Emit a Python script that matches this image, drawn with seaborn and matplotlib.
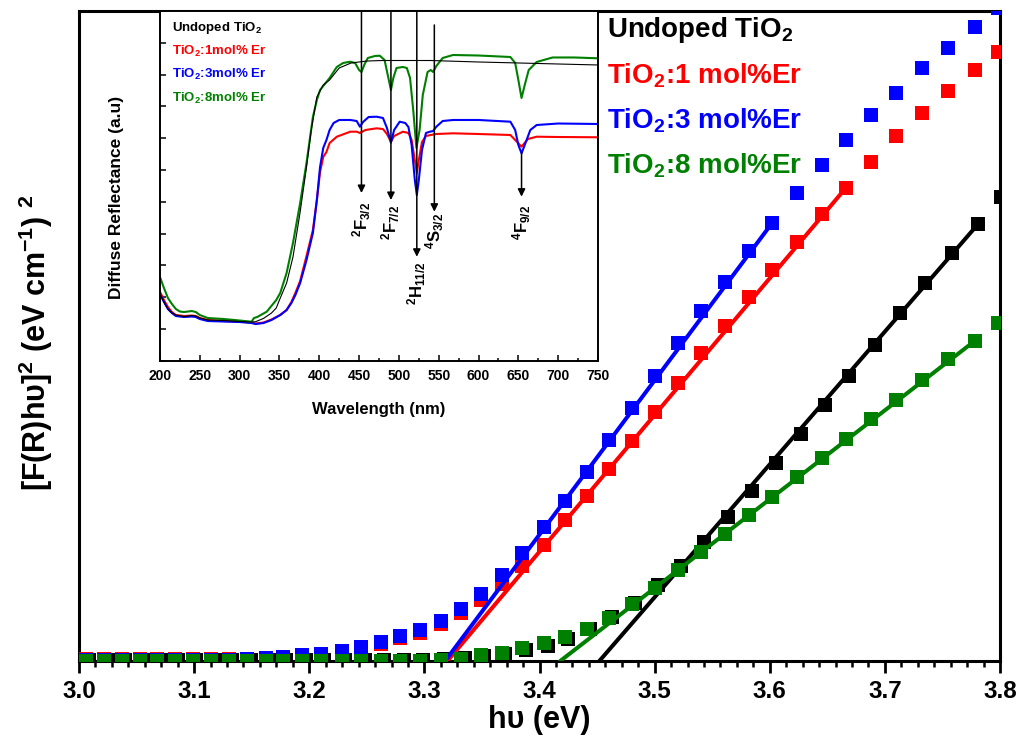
import matplotlib
matplotlib.use("Agg")
import matplotlib.pyplot as plt
import pandas as pd
import seaborn as sns
from matplotlib.ticker import (MultipleLocator, AutoMinorLocator,
                               FormatStrFormatter, NullFormatter)

# ---------------- Tauc plot data ----------------
# photon energy (eV) of each point (doped samples)
energy = [3.006, 3.022, 3.037, 3.053, 3.068, 3.083, 3.099, 3.115, 3.130, 3.146,
          3.162, 3.177, 3.194, 3.210, 3.228, 3.245, 3.262, 3.279, 3.296, 3.314,
          3.332, 3.349, 3.367, 3.385, 3.404, 3.422, 3.441, 3.460, 3.480, 3.500,
          3.520, 3.540, 3.561, 3.582, 3.602, 3.624, 3.645, 3.666, 3.688, 3.710,
          3.732, 3.755, 3.778, 3.798]
# photon energy (eV) of each point (undoped sample)
energy_undoped = [3.009, 3.025, 3.040, 3.056, 3.071, 3.086, 3.102, 3.118, 3.133, 3.149,
                  3.165, 3.180, 3.197, 3.213, 3.231, 3.248, 3.265, 3.282, 3.299, 3.317,
                  3.335, 3.352, 3.370, 3.388, 3.407, 3.425, 3.444, 3.463, 3.483, 3.503,
                  3.523, 3.543, 3.564, 3.585, 3.605, 3.627, 3.648, 3.669, 3.691, 3.713,
                  3.735, 3.758, 3.781, 3.801]

tauc_undoped = [0.08, 0.08, 0.08, 0.08, 0.08, 0.08, 0.08, 0.08, 0.08, 0.08,
                0.08, 0.08, 0.08, 0.08, 0.08, 0.08, 0.08, 0.08, 0.08, 0.31,
                0.46, 0.69, 1.08, 1.62, 2.38, 3.38, 4.92, 6.77, 8.92, 11.69,
                14.6, 18.3, 22.15, 26.15, 30.46, 34.92, 39.38, 43.85, 48.62, 53.54,
                58.08, 62.77, 67.23, 71.38]
tauc_er1 = [0.23, 0.23, 0.23, 0.23, 0.23, 0.23, 0.23, 0.23, 0.23, 0.35,
            0.46, 0.58, 0.77, 0.95, 1.34, 1.95, 2.65, 3.46, 4.38, 5.62,
            7.31, 9.38, 11.85, 14.62, 17.85, 21.69, 25.38, 29.54, 33.85, 38.31,
            42.77, 47.38, 51.54, 56.0, 60.15, 64.46, 68.77, 72.77, 76.77, 80.77,
            84.31, 87.69, 90.92, 93.69]
tauc_er3 = [0.15, 0.15, 0.15, 0.15, 0.15, 0.15, 0.15, 0.15, 0.15, 0.31,
            0.46, 0.62, 0.85, 1.08, 1.46, 2.15, 2.92, 3.77, 4.69, 6.08,
            8.0, 10.31, 13.23, 16.62, 20.54, 24.62, 29.08, 34.0, 38.85, 43.85,
            48.92, 53.77, 58.38, 63.0, 67.38, 72.0, 76.31, 80.15, 84.0, 87.46,
            91.23, 94.31, 97.54, 100.5]
tauc_er8 = [0.0, 0.0, 0.0, 0.0, 0.0, 0.0, 0.0, 0.0, 0.0, 0.0,
            0.0, 0.0, 0.0, 0.0, 0.0, 0.0, 0.0, 0.0, 0.05, 0.17,
            0.35, 0.88, 1.28, 1.95, 2.72, 3.74, 4.88, 6.6, 8.7, 11.2,
            14.0, 16.8, 19.6, 22.5, 25.3, 28.3, 31.2, 34.2, 37.2, 40.2,
            43.3, 46.4, 49.23, 52.0]

# band-gap energies (eV) from the linear extrapolation
band_gap = [3.452, 3.320, 3.318, 3.418]
# index of the last point used in each linear fit
fit_end = [42, 37, 34, 42]

series_labels = ["Undoped TiO$_2$", "TiO$_2$:1 mol%Er",
                 "TiO$_2$:3 mol%Er", "TiO$_2$:8 mol%Er"]
inset_labels = ["Undoped TiO$_2$", "TiO$_2$:1mol% Er",
                "TiO$_2$:3mol% Er", "TiO$_2$:8mol% Er"]
colors = ["#000000", "#ff0000", "#0000ff", "#008000"]

# ---------------- diffuse reflectance spectra ----------------
wl_undoped = [200, 205, 210, 215, 220, 230, 240, 245, 250, 260, 280, 300, 315, 320,
              330, 340, 346, 350, 359, 367, 376, 384, 390, 397, 405, 413, 425, 440,
              460, 480, 500, 520, 540, 560, 600, 650, 700, 750]
refl_undoped = [20.98, 18.47, 16.26, 15.0, 14.38, 13.9, 14.22, 14.06, 13.43, 12.8,
                12.65, 12.33, 12.17, 12.27, 13.3, 15.0, 16.58, 19.09, 24.44, 32.62,
                46.78, 60.93, 72.57, 82.95, 86.73, 88.3, 92.07, 93.65, 94.27, 94.43,
                94.43, 94.43, 94.43, 94.27, 93.96, 93.65, 93.33, 93.02]

wl_er1 = [200, 205, 210, 215, 220, 230, 240, 245, 250, 260, 280, 300, 315, 320, 330,
          340, 351, 359, 365, 370, 376, 384, 392, 397, 401, 405, 409, 413, 422, 439,
          447, 451, 458, 472, 480, 485, 490, 494, 505, 512, 516, 520, 522.5, 525, 529,
          534, 540, 547, 568, 600, 640, 646, 654, 662, 673, 700, 750]
refl_er1 = [21.7, 19.09, 16.89, 15.32, 14.38, 14.06, 14.22, 14.06, 13.43, 12.8,
            12.49, 12.33, 12.02, 11.7, 12.02, 12.96, 14.38, 15.95, 18.47, 21.3,
            25.07, 32.93, 41.11, 50.55, 59.36, 64.08, 65.65, 68.48, 70.46, 72.04,
            72.04, 71.63, 72.57, 73.1, 72.88, 71.31, 68.89, 70.68, 72.04, 71.63,
            69.42, 63.13, 58.95, 63.13, 68.8, 70.68, 71.0, 71.31, 71.53, 71.31,
            71.0, 69.42, 67.32, 69.74, 70.46, 70.37, 70.28]

wl_er3 = [200, 205, 210, 215, 220, 230, 240, 245, 250, 260, 280, 300, 315, 320, 330,
          340, 351, 359, 365, 370, 376, 384, 392, 397, 401, 405, 409, 413, 418, 425,
          439, 447, 451, 455, 462, 472, 480, 485, 490, 494, 501, 508, 512, 516, 520,
          522.5, 525, 529, 534, 539, 543, 547, 555, 568, 600, 640, 646, 650, 654, 658,
          665, 673, 700, 750]
refl_er3 = [20.98, 18.47, 16.26, 15.0, 14.06, 13.75, 13.9, 13.75, 13.12, 12.49,
            12.33, 12.17, 11.86, 11.54, 11.86, 12.8, 14.38, 15.95, 18.15, 20.67,
            24.44, 31.68, 40.17, 50.55, 60.93, 66.91, 69.42, 72.57, 74.77, 75.72,
            75.72, 75.4, 73.61, 75.09, 76.66, 76.75, 76.35, 73.2, 68.57, 72.57,
            75.18, 74.77, 73.51, 67.85, 56.84, 52.12, 56.84, 66.28, 71.63, 72.04,
            72.25, 73.61, 75.4, 75.72, 75.72, 75.18, 72.57, 67.85, 65.24, 67.85,
            72.57, 74.14, 74.61, 74.46]

wl_er8 = [200, 205, 210, 215, 220, 225, 230, 240, 245, 250, 260, 280, 300, 315, 318,
          322, 334, 346, 351, 359, 367, 376, 384, 392, 397, 401, 406, 413, 422, 430,
          439, 445, 450, 453, 457, 461, 470, 476, 482, 486, 490, 493, 497, 505, 510,
          514, 518, 522, 526, 530, 536, 540, 543, 547, 555, 568, 600, 640, 646, 650,
          654, 658, 663, 673, 693, 720, 750]
refl_er8 = [26.33, 22.87, 19.72, 17.84, 16.26, 15.48, 15.32, 15.63, 15.32, 14.38,
            13.43, 13.12, 12.65, 12.27, 13.43, 13.75, 15.41, 19.09, 21.3, 27.59,
            37.02, 49.61, 62.19, 76.66, 82.01, 85.15, 86.73, 88.93, 92.39, 93.65,
            94.05, 93.65, 91.44, 90.81, 93.33, 95.22, 95.85, 95.94, 94.59, 89.87,
            85.15, 88.93, 92.07, 92.39, 92.07, 88.93, 78.86, 66.91, 72.57, 83.58,
            90.81, 91.44, 90.81, 92.7, 95.22, 96.16, 96.0, 95.53, 93.65, 88.3,
            82.64, 86.73, 91.44, 93.96, 95.38, 95.38, 95.13]

# Er3+ absorption transitions marked in the spectra
transitions = ["$^2$F$_{3/2}$", "$^2$F$_{7/2}$", "$^2$H$_{11/2}$",
               "$^4$S$_{3/2}$", "$^4$F$_{9/2}$"]
transition_wl = [453, 490, 522.5, 544.5, 654]

# ---------------- style ----------------
sns.set_theme(style="ticks", rc={"axes.edgecolor": "black", "xtick.color": "black",
                                 "ytick.color": "black", "axes.labelcolor": "black",
                                 "text.color": "black"})
plt.rcParams["font.family"] = ["Liberation Sans", "DejaVu Sans"]
plt.rcParams["font.weight"] = "bold"
plt.rcParams["axes.labelweight"] = "bold"
plt.rcParams["mathtext.default"] = "regular"

fig = plt.figure(figsize=(10.17, 7.43), dpi=100)
ax = fig.add_axes([0.0777, 0.1104, 0.9056, 0.8748])

# ---------------- main Tauc plot ----------------
tauc = [tauc_undoped, tauc_er1, tauc_er3, tauc_er8]
for i, (y, c) in enumerate(zip(tauc, colors)):
    x = energy_undoped if i == 0 else energy
    k = fit_end[i]
    fit = pd.DataFrame({"E": [band_gap[i], x[k]], "F": [0.0, y[k]]})
    sns.lineplot(data=fit, x="E", y="F", ax=ax, color=c, lw=2.9,
                 zorder=2 + 2 * i)
    sns.scatterplot(x=x, y=y, ax=ax, color=c, marker="s", s=95,
                    linewidth=0, zorder=3 + 2 * i)

ax.set_xlim(3.0, 3.8)
ax.set_ylim(0, 100)
ax.xaxis.set_major_locator(MultipleLocator(0.1))
ax.xaxis.set_minor_locator(AutoMinorLocator(7))
ax.xaxis.set_major_formatter(FormatStrFormatter("%.1f"))
ax.set_yticks([])
ax.tick_params(axis="x", which="major", direction="out", length=8.6, width=2.0,
               labelsize=17.5, pad=5)
ax.tick_params(axis="x", which="minor", direction="out", length=4.2, width=1.8)
for lab in ax.get_xticklabels():
    lab.set_fontweight("bold")
for sp in ax.spines.values():
    sp.set_linewidth(2.2)

ax.set_xlabel("hυ (eV)", fontsize=22, fontweight="bold")
ax.xaxis.set_label_coords(0.5, -0.068)
ax.set_ylabel(r"[F(R)hυ]$^2$ (eV cm$^{-1}$) $^2$", fontsize=22, fontweight="bold")
ax.yaxis.set_label_coords(-0.026, 0.49)

legend_y = [0.9605, 0.8888, 0.8195, 0.7503]
for lab, c, yy in zip(series_labels, colors, legend_y):
    ax.text(0.573, yy, lab, transform=ax.transAxes, color=c, fontsize=20,
            fontweight="bold", va="baseline", ha="left")

# ---------------- inset: reflectance spectra ----------------
axin = fig.add_axes([0.1573, 0.5145, 0.4307, 0.4707])
axin.set_facecolor("white")
spectra = [(wl_er1, refl_er1, colors[1], 1.5), (wl_er3, refl_er3, colors[2], 1.5),
           (wl_er8, refl_er8, colors[3], 1.5), (wl_undoped, refl_undoped, colors[0], 0.8)]
for wl, r, c, lw in spectra:
    sns.lineplot(x=wl, y=r, ax=axin, color=c, lw=lw, sort=False, estimator=None)

axin.set_xlim(200, 750)
axin.set_ylim(0, 110)
axin.xaxis.set_major_locator(MultipleLocator(50))
axin.xaxis.set_minor_locator(MultipleLocator(25))
axin.yaxis.set_major_locator(MultipleLocator(10))
axin.yaxis.set_major_formatter(NullFormatter())
axin.tick_params(which="both", direction="in", width=1.1)
axin.tick_params(which="major", length=4)
axin.tick_params(which="minor", length=2.5)
axin.tick_params(axis="x", labelsize=10, pad=6)
for lab in axin.get_xticklabels():
    lab.set_fontweight("bold")
for sp in axin.spines.values():
    sp.set_linewidth(1.4)

axin.set_xlabel("Wavelength (nm)", fontsize=12, fontweight="bold")
axin.xaxis.set_label_coords(0.5, -0.118)
axin.set_ylabel("Diffuse Reflectance (a.u)", fontsize=12.5, fontweight="bold")
axin.yaxis.set_label_coords(-0.081, 0.467)

inset_y = [0.9437, 0.8742, 0.8076, 0.7406]
for lab, c, yy in zip(inset_labels, colors, inset_y):
    axin.text(0.0267, yy, lab, transform=axin.transAxes, color=c, fontsize=9.5,
              fontweight="bold", va="baseline", ha="left")

arrow_top = [110, 110, 110, 105.6, 65.6]
arrow_tip = [52.75, 50.55, 32.7, 46.87, 51.6]
label_top = [49.9, 48.98, 31.05, 46.46, 48.98]
for name, wl, y0, y1, yl in zip(transitions, transition_wl, arrow_top, arrow_tip, label_top):
    axin.annotate("", xy=(wl, y1), xytext=(wl, y0),
                  arrowprops=dict(arrowstyle="-|>", color="black", lw=1.1,
                                  mutation_scale=11, shrinkA=0, shrinkB=0))
    axin.text(wl, yl, name, rotation=90, ha="center", va="top", fontsize=12,
              fontweight="bold", color="black")

fig.savefig("out.png", dpi=100)
